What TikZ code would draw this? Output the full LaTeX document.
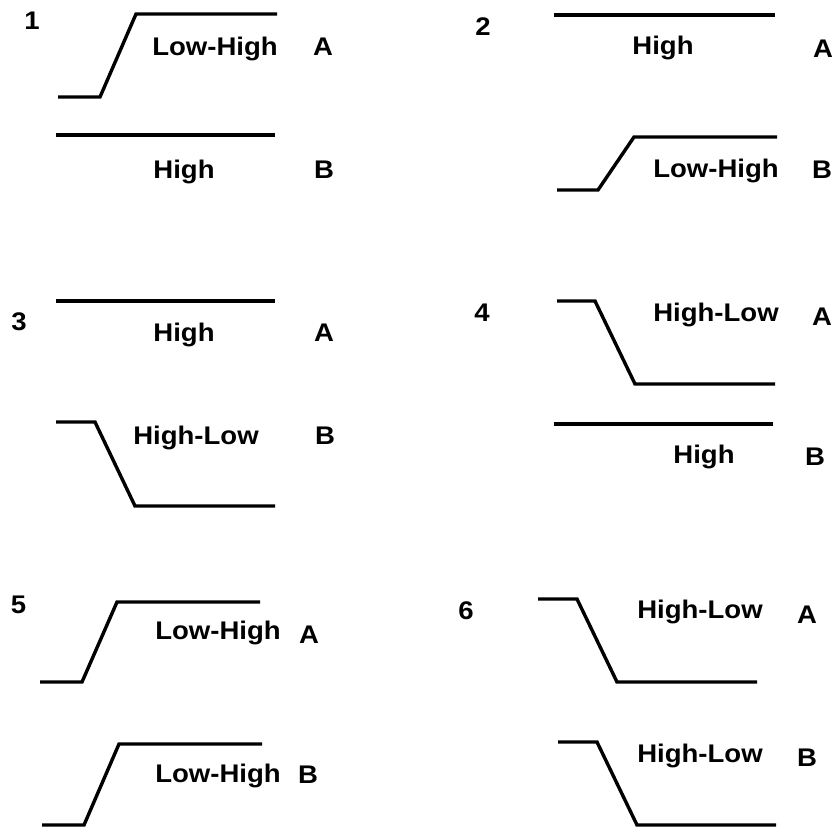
\documentclass[tikz,border=0pt]{standalone}
\usepackage{fontspec}
\setmainfont[FakeStretch=1.08]{Liberation Sans}
\begin{document}
\begin{tikzpicture}[x=1pt,y=-1pt,
  wave/.style={line width=3.4pt,black},
  lbl/.style={font=\fontsize{25.5}{29}\selectfont\bfseries,inner sep=0pt,anchor=base}]
\useasboundingbox (0,0) rectangle (838,831);
% Panel 1
\node[lbl] (n1) at (32,29) {1};
\draw[wave] (58,97) -- (100,97) -- (136,14) -- (277,14);
\node[lbl] (p1a) at (215,55) {Low-High};
\node[lbl] (p1A) at (323,55) {A};
\draw[wave] (56,135) -- (275,135);
\node[lbl] (p1b) at (184,178) {High};
\node[lbl] (p1B) at (324,178) {B};
% Panel 2
\node[lbl] (n2) at (483,35) {2};
\draw[wave] (554,15) -- (775,15);
\node[lbl] (p2a) at (663,54) {High};
\node[lbl] (p2A) at (823,57) {A};
\draw[wave] (557,190) -- (598,190) -- (634,137) -- (777,137);
\node[lbl] (p2b) at (716,177) {Low-High};
\node[lbl] (p2B) at (822,178) {B};
% Panel 3
\node[lbl] (n3) at (19,330) {3};
\draw[wave] (56,301) -- (275,301);
\node[lbl] (p3a) at (184,341) {High};
\node[lbl] (p3A) at (324,341) {A};
\draw[wave] (56,422) -- (95,422) -- (135,506) -- (275,506);
\node[lbl] (p3b) at (196,444) {High-Low};
\node[lbl] (p3B) at (325,444) {B};
% Panel 4
\node[lbl] (n4) at (482,321) {4};
\draw[wave] (557,301) -- (595,301) -- (635,384) -- (775,384);
\node[lbl] (p4a) at (716,321) {High-Low};
\node[lbl] (p4A) at (822,325) {A};
\draw[wave] (554,424) -- (773,424);
\node[lbl] (p4b) at (704,463) {High};
\node[lbl] (p4B) at (815,465) {B};
% Panel 5
\node[lbl] (n5) at (18.5,613) {5};
\draw[wave] (40,682) -- (82,682) -- (117,602) -- (260,602);
\node[lbl] (p5a) at (218,639) {Low-High};
\node[lbl] (p5A) at (309,643) {A};
\draw[wave] (42,825) -- (84,825) -- (119,744) -- (262,744);
\node[lbl] (p5b) at (218,782) {Low-High};
\node[lbl] (p5B) at (308,783) {B};
% Panel 6
\node[lbl] (n6) at (466,619) {6};
\draw[wave] (538,599) -- (577,599) -- (617,682) -- (757,682);
\node[lbl] (p6a) at (700,618) {High-Low};
\node[lbl] (p6A) at (807,623) {A};
\draw[wave] (558,742) -- (597,742) -- (637,825) -- (776,825);
\node[lbl] (p6b) at (700,762) {High-Low};
\node[lbl] (p6B) at (807,766) {B};
\end{tikzpicture}
\end{document}
